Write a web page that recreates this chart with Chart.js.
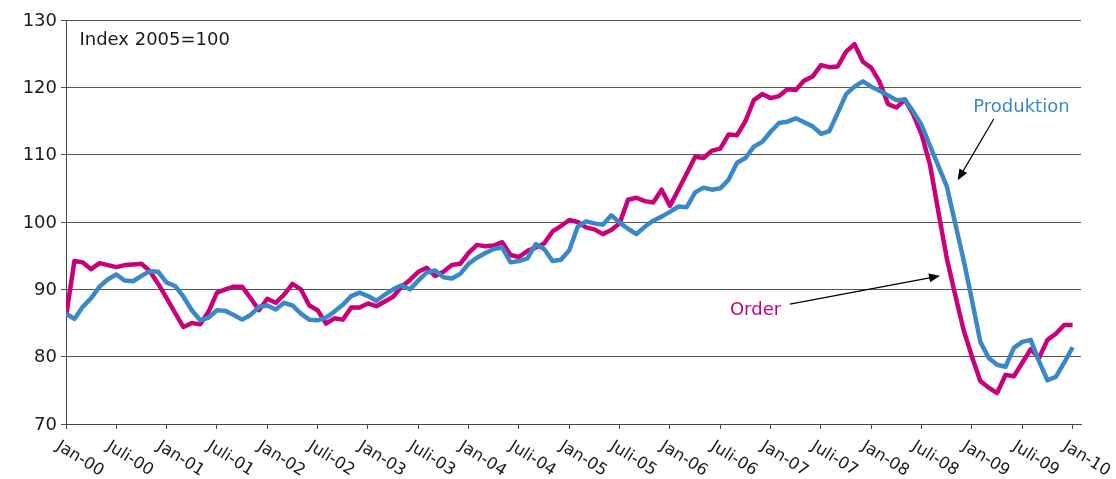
<!DOCTYPE html>
<html>
<head>
<meta charset="UTF-8">
<title>Produktion och order</title>
<script src="https://cdn.jsdelivr.net/npm/chart.js"></script>
<style>
  body { margin: 0; background: #fff; }
  canvas { display: block; }
</style>
</head>
<body>
<canvas id="chart" width="1116" height="479"></canvas>
<script>
// monthly index values, Jan-00 .. Jan-10 (121 months), 2005=100
const produktion = [
  86.4, 85.6, 87.4, 88.7, 90.4, 91.5, 92.2, 91.3, 91.2, 92.0, 92.7, 92.6,
  91.0, 90.5, 88.9, 86.9, 85.4, 85.8, 86.9, 86.8, 86.2, 85.5, 86.2, 87.4,
  87.6, 87.0, 88.0, 87.6, 86.4, 85.5, 85.4, 85.8, 86.7, 87.7, 89.0, 89.5,
  89.0, 88.3, 89.2, 90.0, 90.6, 90.0, 91.3, 92.5, 92.8, 91.8, 91.6, 92.3,
  93.8, 94.7, 95.4, 96.0, 96.2, 94.0, 94.2, 94.6, 96.7, 96.0, 94.2, 94.4,
  95.8, 99.3, 100.1, 99.8, 99.6, 101.0, 99.9, 99.0, 98.2, 99.3, 100.2, 100.8,
  101.5, 102.3, 102.2, 104.4, 105.1, 104.8, 105.0, 106.3, 108.8, 109.5, 111.2, 111.9,
  113.4, 114.7, 114.9, 115.4, 114.8, 114.2, 113.1, 113.5, 116.2, 119.0, 120.1, 120.9,
  120.1, 119.5, 118.8, 118.1, 118.2, 116.4, 114.4, 111.3, 108.3, 105.3, 99.8, 94.4,
  88.4, 82.2, 79.8, 78.8, 78.5, 81.3, 82.2, 82.5, 79.3, 76.5, 77.0, 79.1,
  81.4
];

const order = [
  85.9, 94.2, 94.0, 93.0, 93.9, 93.6, 93.3, 93.6, 93.7, 93.8, 92.7, 90.8,
  88.7, 86.5, 84.4, 85.0, 84.8, 86.7, 89.5, 90.0, 90.4, 90.4, 88.7, 86.9,
  88.6, 88.0, 89.2, 90.8, 90.0, 87.6, 86.9, 84.9, 85.7, 85.5, 87.3, 87.3,
  87.9, 87.5, 88.2, 88.9, 90.4, 91.4, 92.6, 93.2, 92.0, 92.6, 93.6, 93.8,
  95.4, 96.6, 96.4, 96.5, 97.0, 95.1, 94.8, 95.7, 96.2, 96.8, 98.6, 99.4,
  100.3, 100.0, 99.2, 98.9, 98.2, 98.8, 99.8, 103.3, 103.6, 103.1, 102.9, 104.8,
  102.4, 104.8, 107.2, 109.7, 109.5, 110.6, 110.9, 113.0, 112.9, 115.0, 118.1, 119.0,
  118.4, 118.7, 119.7, 119.6, 121.0, 121.6, 123.3, 123.0, 123.1, 125.3, 126.4, 123.8,
  122.9, 120.8, 117.5, 117.0, 118.2, 116.0, 113.0, 108.5, 101.5, 94.6, 89.2, 84.0,
  80.0, 76.4, 75.4, 74.6, 77.3, 77.1, 79.1, 81.1, 79.8, 82.5, 83.4, 84.7,
  84.7
];

// one label every 6 months
const tickLabels = [
  "Jan-00", "Juli-00", "Jan-01", "Juli-01", "Jan-02", "Juli-02", "Jan-03",
  "Juli-03", "Jan-04", "Juli-04", "Jan-05", "Juli-05", "Jan-06", "Juli-06",
  "Jan-07", "Juli-07", "Jan-08", "Juli-08", "Jan-09", "Juli-09", "Jan-10"
];

const yTicks = [70, 80, 90, 100, 110, 120, 130];

const BLUE = "#3b88c9";
const MAGENTA = "#c8007a";
const FONT = "'DejaVu Sans', sans-serif";

const toPoints = arr => arr.map((v, i) => ({ x: i, y: v }));

// axis labels + the two arrow notes, drawn on top via the scales
const textPlugin = {
  id: "texts",
  afterDraw(chart) {
    const ctx = chart.ctx;
    const xs = chart.scales.x;
    const ys = chart.scales.y;
    const area = chart.chartArea;
    ctx.save();

    ctx.fillStyle = "#1a1a1a";
    ctx.font = "18px " + FONT;
    ctx.textAlign = "right";
    ctx.textBaseline = "middle";
    yTicks.forEach(v => {
      ctx.fillText(String(v), area.left - 9, ys.getPixelForValue(v) + 1);
    });

    ctx.font = "16.5px " + FONT;
    ctx.textAlign = "left";
    ctx.textBaseline = "top";
    tickLabels.forEach((lab, k) => {
      const px = xs.getPixelForValue(k * 6);
      ctx.save();
      ctx.translate(px - 4, area.bottom + 14);
      ctx.rotate(32 * Math.PI / 180);
      ctx.fillText(lab, 0, 0);
      ctx.restore();
    });

    ctx.font = "18px " + FONT;
    ctx.textBaseline = "middle";
    ctx.fillText("Index 2005=100", xs.getPixelForValue(1.6), ys.getPixelForValue(127));

    ctx.textAlign = "center";
    ctx.fillStyle = BLUE;
    ctx.fillText("Produktion", xs.getPixelForValue(113.9), ys.getPixelForValue(117.0));
    ctx.fillStyle = MAGENTA;
    ctx.fillText("Order", xs.getPixelForValue(82.2), ys.getPixelForValue(86.9));

    const arrow = (x1, y1, x2, y2) => {
      const ax = xs.getPixelForValue(x1), ay = ys.getPixelForValue(y1);
      const bx = xs.getPixelForValue(x2), by = ys.getPixelForValue(y2);
      const a = Math.atan2(by - ay, bx - ax);
      ctx.strokeStyle = "#000";
      ctx.fillStyle = "#000";
      ctx.lineWidth = 1.2;
      ctx.beginPath();
      ctx.moveTo(ax, ay);
      ctx.lineTo(bx - 8 * Math.cos(a), by - 8 * Math.sin(a));
      ctx.stroke();
      ctx.beginPath();
      ctx.moveTo(bx, by);
      ctx.lineTo(bx - 11 * Math.cos(a) + 4.5 * Math.sin(a), by - 11 * Math.sin(a) - 4.5 * Math.cos(a));
      ctx.lineTo(bx - 11 * Math.cos(a) - 4.5 * Math.sin(a), by - 11 * Math.sin(a) + 4.5 * Math.cos(a));
      ctx.closePath();
      ctx.fill();
    };
    arrow(110.6, 115.3, 106.3, 106.2);
    arrow(86.3, 87.8, 104.2, 92.0);

    ctx.restore();
  }
};

new Chart(document.getElementById("chart"), {
  type: "line",
  data: {
    datasets: [
      {
        label: "Produktion",
        data: toPoints(produktion),
        borderColor: BLUE,
        borderWidth: 4.5,
        pointRadius: 0,
        tension: 0,
        borderJoinStyle: "round"
      },
      {
        label: "Order",
        data: toPoints(order),
        borderColor: MAGENTA,
        borderWidth: 4.5,
        pointRadius: 0,
        tension: 0,
        borderJoinStyle: "round"
      }
    ]
  },
  options: {
    responsive: false,
    animation: false,
    layout: { padding: { left: 61, top: 20, right: 35, bottom: 50 } },
    plugins: {
      legend: { display: false },
      tooltip: { enabled: false }
    },
    scales: {
      x: {
        type: "linear",
        min: 0,
        max: 121,
        ticks: { display: false, stepSize: 6, includeBounds: false },
        grid: { drawOnChartArea: false, tickLength: 5, color: "#444" },
        border: { color: "#444", width: 1 }
      },
      y: {
        min: 70,
        max: 130,
        ticks: { display: false, stepSize: 10 },
        grid: { tickLength: 5, color: "#555" },
        border: { color: "#444", width: 1 }
      }
    }
  },
  plugins: [textPlugin]
});
</script>
</body>
</html>
